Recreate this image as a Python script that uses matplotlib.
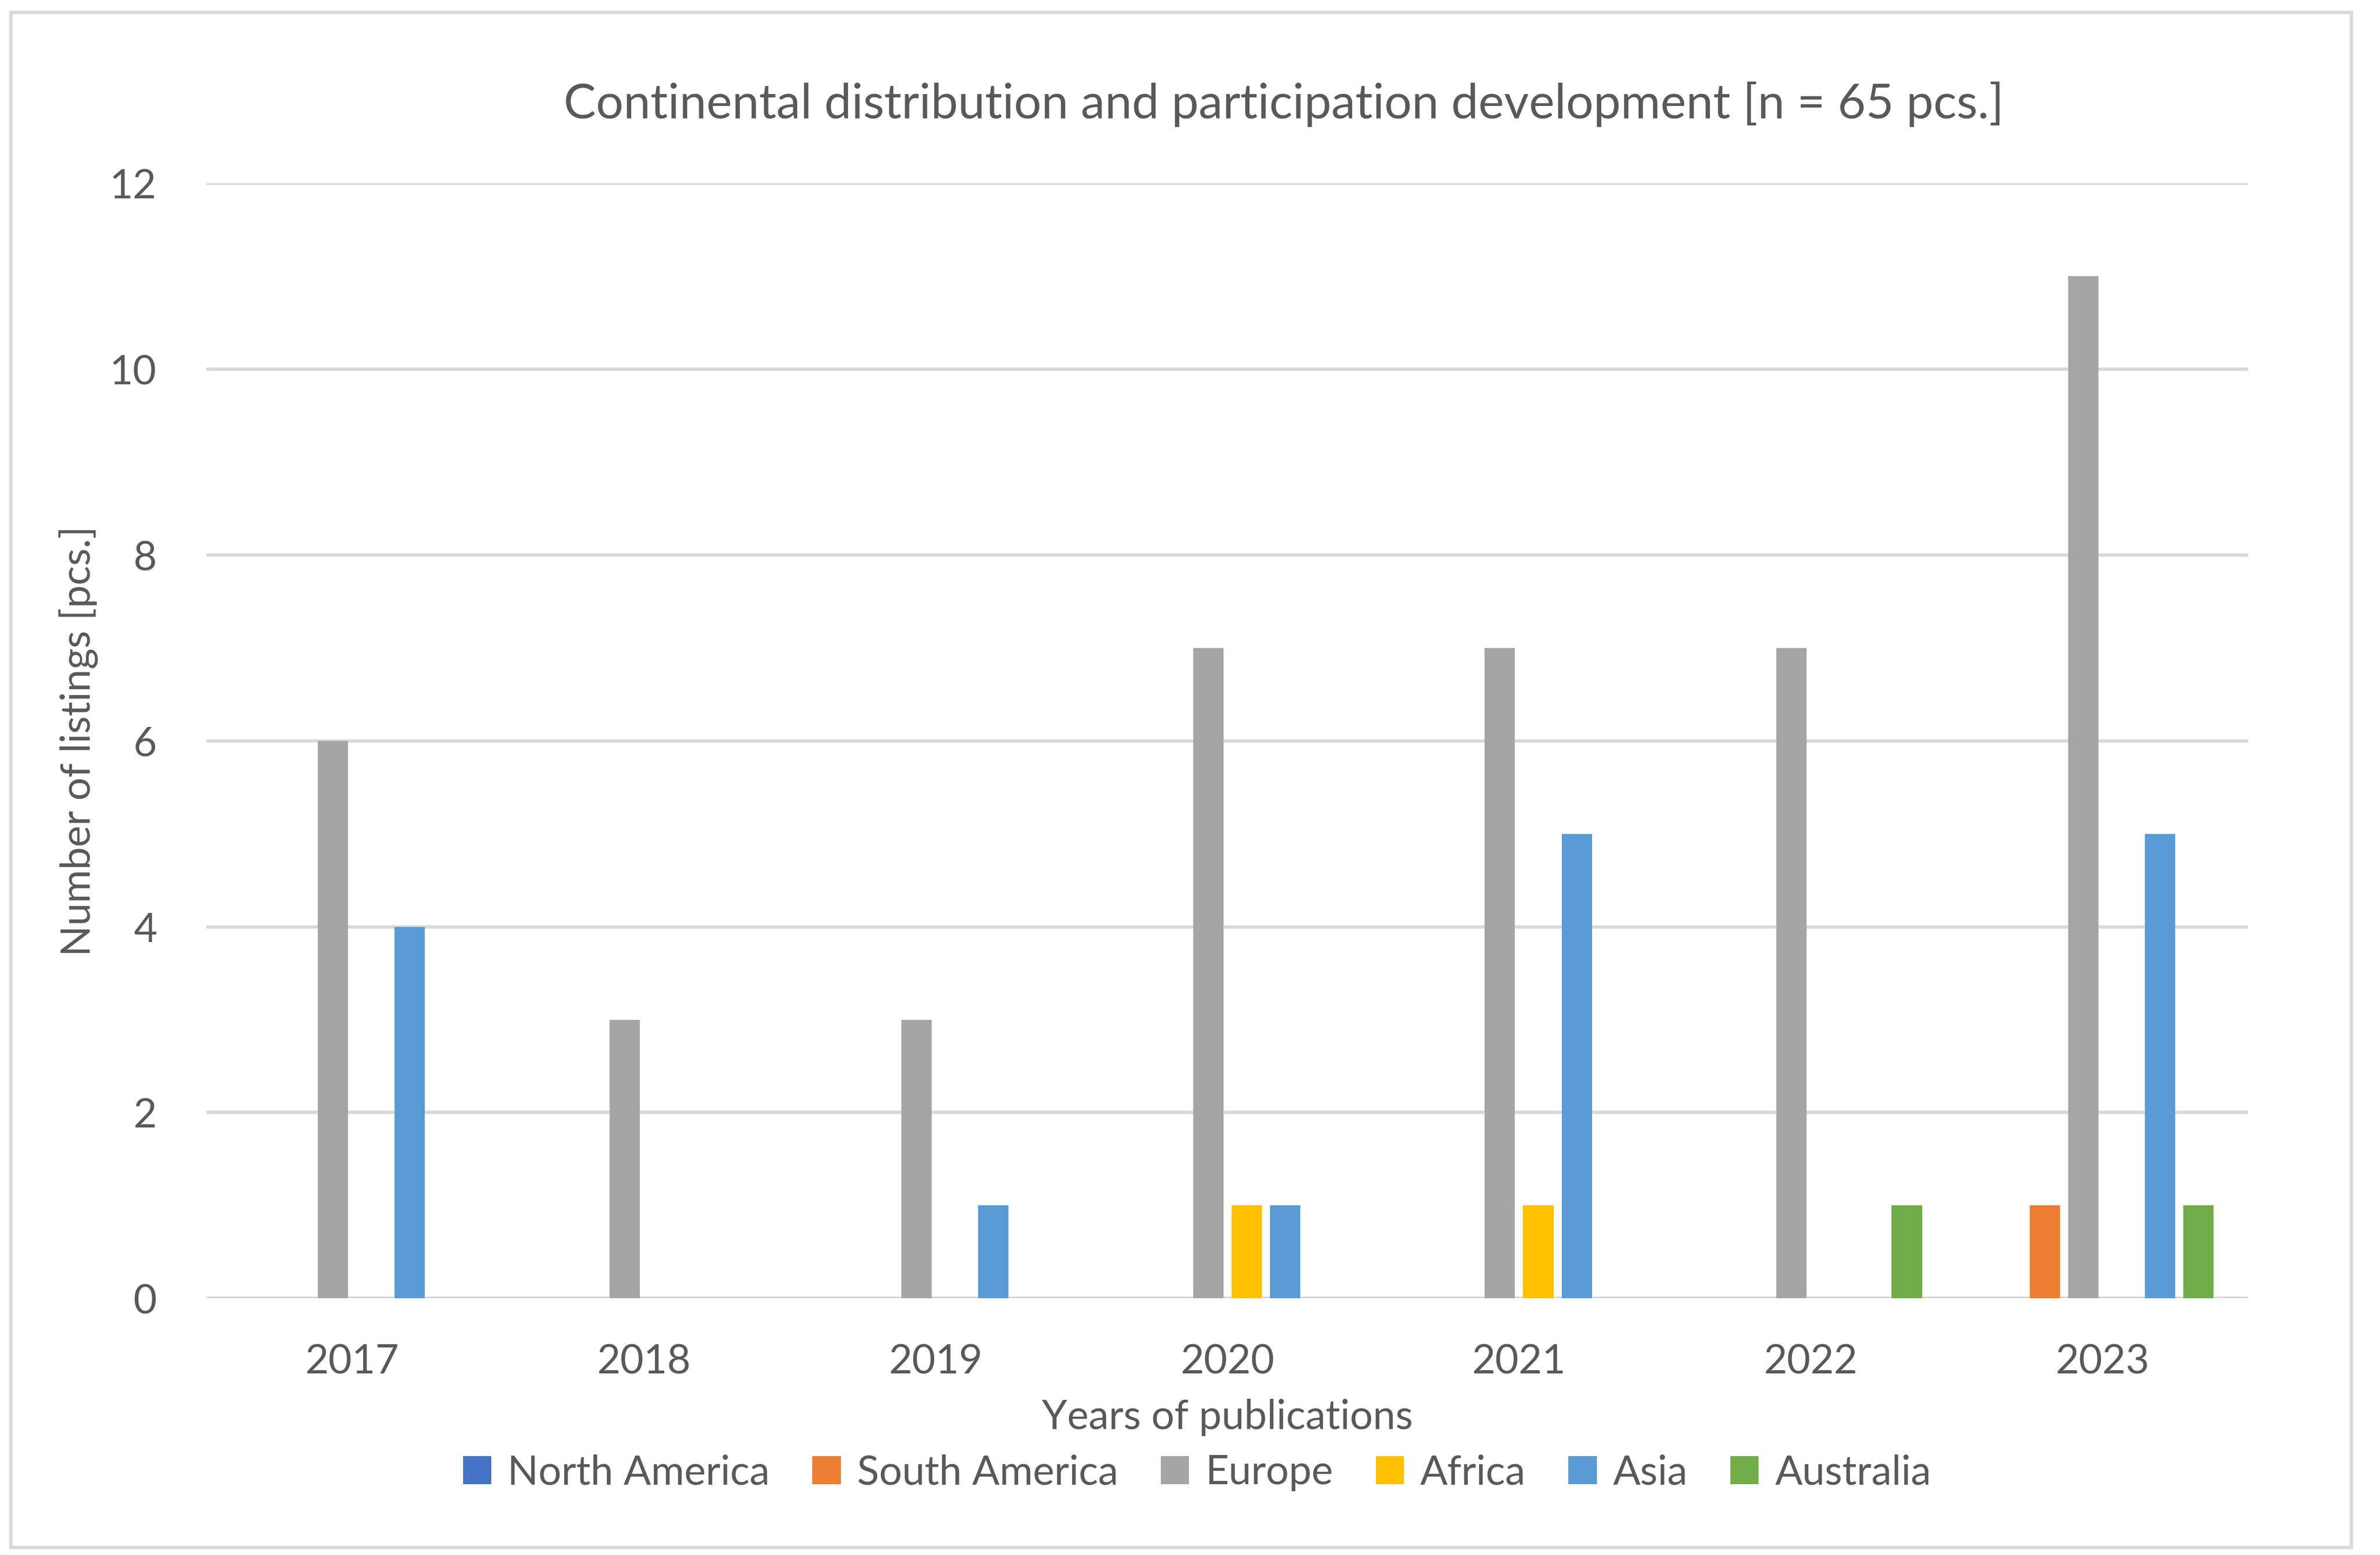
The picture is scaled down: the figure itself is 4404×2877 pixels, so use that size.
import matplotlib.pyplot as plt
from matplotlib.patches import Rectangle
import numpy as np

years = ["2017", "2018", "2019", "2020", "2021", "2022", "2023"]
continents = ["North America", "South America", "Europe", "Africa", "Asia", "Australia"]

north_america = [0, 0, 0, 0, 0, 0, 0]
south_america = [0, 0, 0, 0, 0, 0, 1]
europe = [6, 3, 3, 7, 7, 7, 11]
africa = [0, 0, 0, 1, 1, 0, 0]
asia = [4, 0, 1, 1, 5, 0, 5]
australia = [0, 0, 0, 0, 0, 1, 1]

colors = ["#4472C4", "#ED7D31", "#A5A5A5", "#FFC000", "#5B9BD5", "#70AD47"]
text_col = "#595959"
grid_col = "#D9D9D9"

plt.rcParams['font.family'] = ['Lato', 'DejaVu Sans']

fig = plt.figure(figsize=(14.68, 9.59), dpi=300)
ax = fig.add_axes([0.0867, 0.165, 0.858, 0.717])

series = [north_america, south_america, europe, africa, asia, australia]
x = np.arange(len(years))
step = 0.1317
width = 0.104
for i, (vals, name) in enumerate(zip(series, continents)):
    ax.bar(x + (i - 2.5) * step, vals, width, color=colors[i], label=name, zorder=3)

ax.set_xlim(-0.5, len(years) - 0.5)
ax.set_ylim(0, 12)
ax.set_yticks(range(0, 13, 2))
ax.set_xticks(x)
ax.set_xticklabels(years)
ax.tick_params(axis='both', length=0, labelsize=18, labelcolor=text_col)
ax.tick_params(axis='y', pad=22)
ax.tick_params(axis='x', pad=20)
ax.grid(axis='y', color=grid_col, linewidth=1.5, zorder=0)
for s in ax.spines.values():
    s.set_visible(False)
ax.axhline(0, color=grid_col, linewidth=1.5, zorder=2)

ax.set_xlabel("Years of publications", fontsize=18, color=text_col, labelpad=8)
ax.set_ylabel("Number of listings [pcs.]", fontsize=18, color=text_col, labelpad=5)

fig.text(0.5395, 0.933, "Continental distribution and participation development [n = 65 pcs.]",
         ha='center', va='center', fontsize=21.5, color=text_col)

leg = fig.legend(loc='center', bbox_to_anchor=(0.503, 0.053), ncol=6, frameon=False,
                 fontsize=18, handlelength=0.7, handleheight=0.7, handletextpad=0.4,
                 columnspacing=1.05)
for t in leg.get_texts():
    t.set_color(text_col)

fig.patches.append(Rectangle((0.0045, 0.005), 0.9835, 0.987, transform=fig.transFigure,
                             fill=False, edgecolor=grid_col, linewidth=1.5))

fig.savefig("out.png", dpi=300)
